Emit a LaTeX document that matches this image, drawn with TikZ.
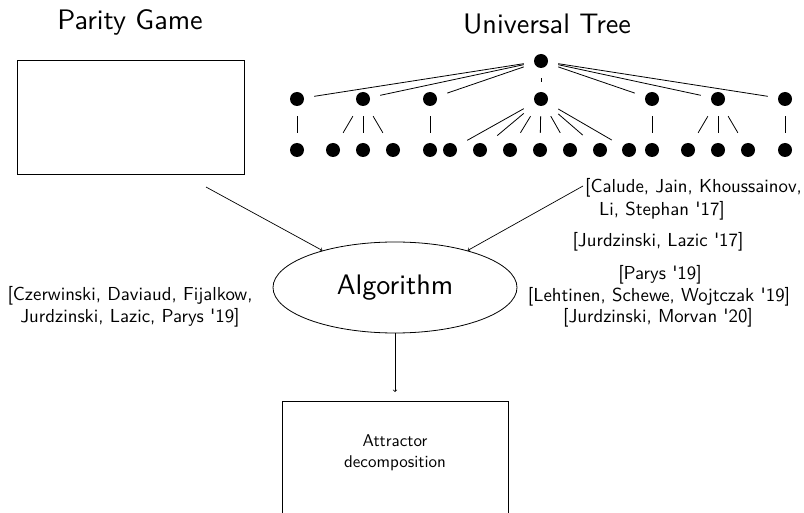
\documentclass[tikz,border=0pt]{standalone}
\usepackage{fontspec}
\newfontfamily\lmten{lmsans10-regular.otf}
\usetikzlibrary{shapes.geometric}
\begin{document}
\begin{tikzpicture}[x=1pt,y=-1pt,
  tnode/.style={rectangle,minimum width=34pt,minimum height=34pt,inner sep=0pt,
    path picture={\fill (path picture bounding box.center) circle (7pt);}},
  tedge/.style={line width=0.8pt},
  cite/.style={font=\lmten\fontsize{18.8}{21.5}\selectfont, inner sep=0pt, anchor=base},
  small/.style={font=\lmten\fontsize{17}{21}\selectfont, inner sep=0pt, anchor=base},
  ttl/.style={font=\lmten\fontsize{28.2}{32}\selectfont, inner sep=0pt, anchor=base},
  boxx/.style={draw, line width=0.8pt, inner sep=0pt},
  conn/.style={->, line width=0.7pt}]
\useasboundingbox (0,0) rectangle (804,513);
\clip (0,0) rectangle (804,513);
% titles
\node[ttl] (pgt) at (130,30) {Parity Game};
\node[ttl] (utt) at (547,33.3) {Universal Tree};
% parity game box
\node[boxx, minimum width=227pt, minimum height=114pt] (pg) at (130.5,117) {};
% tree
\node[tnode] (r) at (541,61) {};
\foreach \i/\x in {1/297,2/363,3/430,4/541,5/652,6/718,7/785}
  \node[tnode] (m\i) at (\x,99) {};
\foreach \i/\x in {1/297,2/333,3/363,4/393,5/430,6/450,7/480,8/510,9/540,10/570,11/600,12/629,13/652,14/688,15/718,16/748,17/785}
  \node[tnode] (l\i) at (\x,150) {};
\foreach \i in {1,...,7} \draw[tedge] (r) -- (m\i);
\draw[tedge] (m1) -- (l1);
\foreach \j in {2,3,4} \draw[tedge] (m2) -- (l\j);
\draw[tedge] (m3) -- (l5);
\foreach \j in {6,...,12} \draw[tedge] (m4) -- (l\j);
\draw[tedge] (m5) -- (l13);
\foreach \j in {14,15,16} \draw[tedge] (m6) -- (l\j);
\draw[tedge] (m7) -- (l17);
% algorithm
\node[ellipse, draw, line width=0.8pt, minimum width=244pt, minimum height=91pt, inner sep=0pt] (alg) at (395,287.5) {};
\node[ttl] (algt) at (395,295) {Algorithm};
% attractor box
\node[boxx, minimum width=226pt, minimum height=140pt, anchor=north] (att) at (395,401) {};
\node[small] (att1) at (395,446.5) {Attractor};
\node[small] (att2) at (395,467.5) {decomposition};
% citations
\node[cite] (cz1) at (130,301) {[Czerwinski, Daviaud, Fijalkow,};
\node[cite] (cz2) at (130,322.5) {Jurdzinski, Lazic, Parys '19]};
\node[cite, anchor=base west] (cal1) at (585,193) {[Calude, Jain, Khoussainov,};
\node[cite, anchor=base west] (cal2) at (599,216) {Li, Stephan '17]};
\node[cite] (jl) at (658,247) {[Jurdzinski, Lazic '17]};
\node[cite] (par) at (660,280) {[Parys '19]};
\node[cite] (lsw) at (659,302) {[Lehtinen, Schewe, Wojtczak '19]};
\node[cite] (jm) at (658,323) {[Jurdzinski, Morvan '20]};
% connectors
\coordinate (s1) at (206,187);
\coordinate (s2) at (583,186);
\draw[conn] (s1) -- (alg.153);
\draw[conn] (s2) -- (alg.27);
\draw[conn, shorten >=9pt] (alg) -- (att);
\end{tikzpicture}
\end{document}
